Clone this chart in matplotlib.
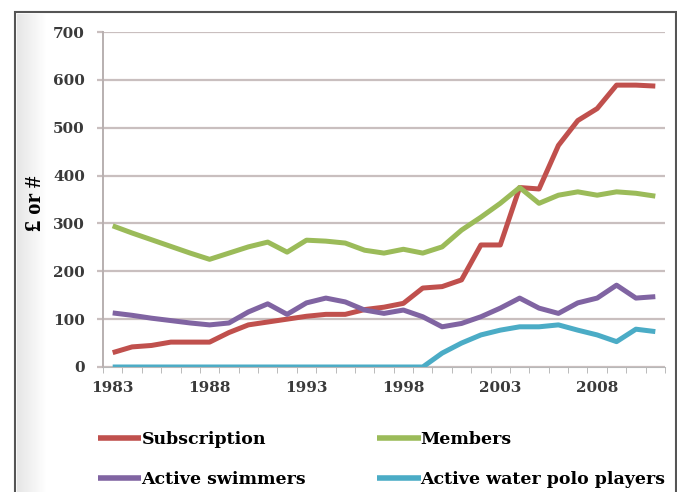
import numpy as np
import matplotlib
matplotlib.use("Agg")
from matplotlib import pyplot as plt
from matplotlib.patches import Rectangle

# データ
years = list(range(1983, 2012))
subscription = [30, 42, 45, 52, 52, 52, 72, 88, 94, 100, 106, 110, 110, 120, 125,
                133, 165, 168, 182, 255, 255, 375, 372, 463, 515, 540, 589, 589, 587]
members = [295, 280, 266, 252, 238, 225, 238, 251, 261, 240, 265, 263, 259, 244, 238,
           246, 238, 251, 286, 313, 342, 375, 342, 359, 366, 359, 366, 363, 357]
swimmers = [113, 108, 102, 97, 92, 88, 92, 115, 132, 110, 134, 144, 136, 119, 112,
            119, 105, 84, 91, 105, 123, 144, 123, 112, 134, 144, 171, 144, 147]
polo = [0, 0, 0, 0, 0, 0, 0, 0, 0, 0, 0, 0, 0, 0, 0, 0, 0,
        29, 50, 67, 77, 84, 84, 88, 77, 67, 53, 79, 74]

series = [
    ("Subscription", subscription, "#c0504d"),
    ("Members", members, "#9bbb59"),
    ("Active swimmers", swimmers, "#8064a2"),
    ("Active water polo players", polo, "#4bacc6"),
]

fig = plt.figure(figsize=(6.77, 4.92), dpi=100)

# 外枠と左側の影
bg = fig.add_axes([17/677, 0, 30/677, 1 - 14/492], zorder=-5)
grad = np.linspace(0.9, 1.0, 64).reshape(1, -1)
bg.imshow(grad, aspect="auto", cmap="gray", vmin=0, vmax=1)
bg.axis("off")
fig.patches.append(Rectangle((15/677, -0.05), 661/677, 1.05 - 12/492, transform=fig.transFigure,
                             fill=False, edgecolor="#555555", linewidth=1.5, zorder=10))

ax = fig.add_axes([103/677, 1 - 367/492, 562/677, 335/492])
x = np.arange(len(years))
lines = {}
for name, vals, col in series:
    lines[name], = ax.plot(x, vals, color=col, linewidth=3.6, label=name, solid_capstyle="butt")

ax.set_xlim(-0.5, len(years) - 0.5)
ax.set_ylim(0, 700)
ax.set_yticks(range(0, 701, 100))
ax.yaxis.grid(True, color="#c9bfbf", linewidth=1.6)
ax.set_axisbelow(True)

# x軸: 5年ごとのラベル、カテゴリ境界に目盛り
ax.set_xticks(x[::5])
ax.set_xticklabels([str(y) for y in years[::5]])
ax.set_xticks(np.arange(-0.5, len(years)), minor=True)
ax.tick_params(axis="x", which="major", length=0, pad=10)
ax.tick_params(axis="x", which="minor", length=4, color="#b0b0b0", direction="out")
ax.tick_params(axis="y", length=4.5, color="#c9bfbf", width=1.6, pad=8.5)

for lab in ax.get_xticklabels() + ax.get_yticklabels():
    lab.set_fontfamily("DejaVu Serif")
    lab.set_fontweight("bold")
    lab.set_fontsize(11)
    lab.set_color("#3a3a3a")

for s in ["top", "right"]:
    ax.spines[s].set_visible(False)
ax.spines["left"].set_color("#b8b0b0")
ax.spines["bottom"].set_color("#b8b8b8")
ax.spines["left"].set_linewidth(1.4)

ax.set_ylabel("£ or #", fontfamily="Liberation Serif", fontweight="bold", fontsize=16.5)
ax.yaxis.set_label_coords(-0.102, 0.49)

# 凡例: 1行目 Subscription / Members, 2行目 Active swimmers / Active water polo players
order = ["Subscription", "Active swimmers", "Members", "Active water polo players"]
leg = fig.legend([lines[n] for n in order], order, loc="upper left",
                 bbox_to_anchor=(98/677, 1 - 431/492), ncol=2,
                 frameon=False, handlelength=2.5, handletextpad=0.0, columnspacing=4.1,
                 labelspacing=1.35, borderpad=0, borderaxespad=0,
                 prop={"family": "DejaVu Serif", "weight": "bold", "size": 12.5})
for h in leg.get_lines():
    h.set_linewidth(4)

fig.savefig("out.png", dpi=100)
